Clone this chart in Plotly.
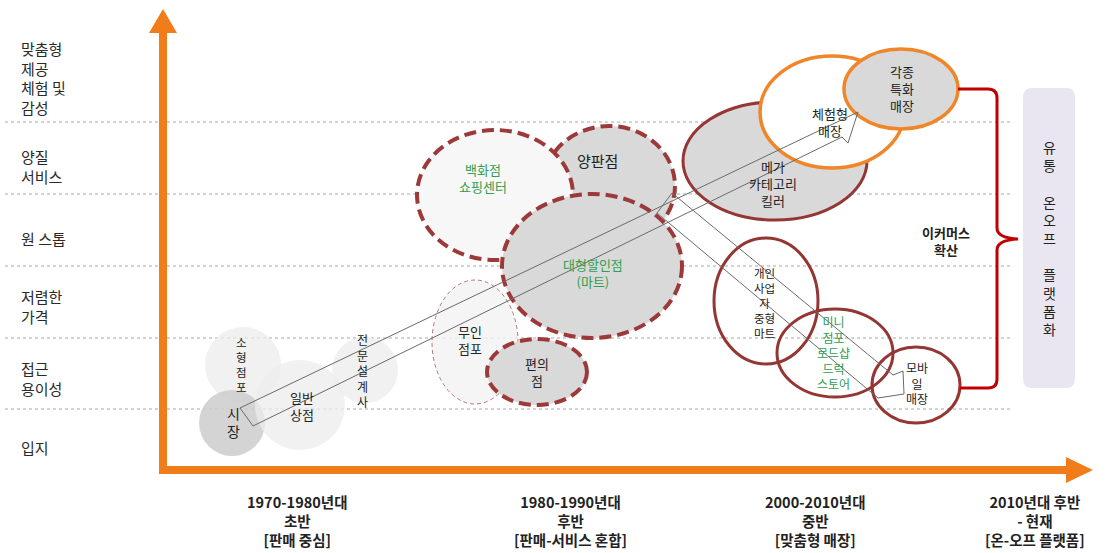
import plotly.graph_objects as go

W, H = 1114, 553
FONT = "Noto Sans CJK KR"

# ---- axis categories ----
level_labels = ["맞춤형<br>제공<br>체험 및<br>감성", "양질<br>서비스", "원 스톱", "저렴한<br>가격", "접근<br>용이성", "입지"]
level_y = [78, 166, 238, 306, 378, 447]
grid_y = [122, 194, 266, 338, 409]

period_labels = ["1970-1980년대<br>초반<br>[판매 중심]",
                 "1980-1990년대<br>후반<br>[판매-서비스 혼합]",
                 "2000-2010년대<br>중반<br>[맞춤형 매장]",
                 "2010년대 후반<br>- 현재<br>[온-오프 플랫폼]"]
period_x = [297, 570, 815, 1035]

# ---- bubbles (drawing order) ----
bubble_names = ["소형점포", "전문설계사", "시장", "일반상점", "무인점포", "편의점",
                "양판점", "백화점", "대형할인점", "메가", "체험형", "각종",
                "개인사업자", "미니점포", "모바일"]
bubble_cx = [243, 365, 232, 300, 475, 537, 609, 495, 592, 775, 832, 901, 766, 835, 916]
bubble_cy = [365, 370, 423, 405, 342, 372, 186, 195, 266, 161, 112, 89, 301, 353, 385]
bubble_rx = [38, 33, 33, 45, 43, 50, 66, 78, 90, 92, 72, 57, 52, 58, 44]
bubble_ry = [38, 33, 33, 45, 62, 33, 60, 65, 72, 59, 56, 40, 63, 44, 38]
bubble_style = ["light", "light", "grayt", "light", "thin", "dgray",
                "dgray", "dlight", "dgray", "brown", "orangew", "orangeg",
                "ring", "ring", "ring"]

styles = {
    "light":   dict(fill="rgba(236,236,236,0.75)", line=None, width=0, dash="solid"),
    "grayt":   dict(fill="rgba(205,205,205,0.85)", line=None, width=0, dash="solid"),
    "thin":    dict(fill="rgba(243,243,243,0.8)", line="#b07a7a", width=1, dash="4px,3px"),
    "dgray":   dict(fill="#d9d9d9", line="#9c3a3a", width=4, dash="12px,6px"),
    "dlight":  dict(fill="#f7f7f7", line="#9c3a3a", width=4, dash="12px,6px"),
    "brown":   dict(fill="#d9d9d9", line="#943634", width=3, dash="solid"),
    "orangew": dict(fill="#ffffff", line="#f0862a", width=3.5, dash="solid"),
    "orangeg": dict(fill="#d9d9d9", line="#f0862a", width=3.5, dash="solid"),
    "ring":    dict(fill="rgba(0,0,0,0)", line="#943634", width=3, dash="solid"),
}

# ---- bubble labels ----
label_text = ["시<br>장", "소<br>형<br>점<br>포", "일반<br>상점", "전<br>문<br>설<br>계<br>사",
              "무인<br>점포", "편의<br>점", "백화점<br>쇼핑센터", "양판점", "대형할인점<br>(마트)",
              "메가<br>카테고리<br>킬러", "체험형<br>매장", "각종<br>특화<br>매장",
              "개인<br>사업<br>자<br>중형<br>마트", "미니<br>점포<br>로드샵<br>드럭<br>스토어", "모바<br>일<br>매장"]
label_x = [233, 241, 302, 362, 470, 537, 483, 597, 593, 773, 830, 902, 764, 833, 917]
label_y = [422, 364, 406, 370, 340, 372, 178, 160, 273, 183, 122, 88, 303, 352, 383]
label_green = [False, False, False, False, False, False, True, False, True,
               False, False, False, False, True, False]
label_size = [14, 11.5, 13, 12, 13, 13, 13, 15, 13, 13, 13, 13, 11.5, 12, 12]

# ---- hollow trend arrows ----
arrow_up_x = [240, 858, 848, 842, 253, 240]
arrow_up_y = [408, 112, 143, 137, 426, 408]
arrow_dn_x = [672, 893, 903, 904, 878, 657, 672]
arrow_dn_y = [193, 375, 371, 394, 398, 213, 193]

side_label = "유<br>통<br><br>온<br>오<br>프<br><br>플<br>랫<br>폼<br>화"
ecommerce_label = "이커머스<br>확산"

fig = go.Figure()
fig.add_trace(go.Scatter(x=[0, W], y=[0, H], mode="markers",
                         marker=dict(opacity=0), hoverinfo="skip", showlegend=False))

shapes = []
for gy in grid_y:
    shapes.append(dict(type="line", x0=5, x1=1013, y0=gy, y1=gy,
                       line=dict(color="#a8a8a8", width=1, dash="dot"), layer="below"))

for i in range(len(bubble_names)):
    s = styles[bubble_style[i]]
    line = dict(width=0) if s["line"] is None else dict(color=s["line"], width=s["width"], dash=s["dash"])
    shapes.append(dict(type="circle", xref="x", yref="y",
                       x0=bubble_cx[i] - bubble_rx[i], x1=bubble_cx[i] + bubble_rx[i],
                       y0=bubble_cy[i] - bubble_ry[i], y1=bubble_cy[i] + bubble_ry[i],
                       fillcolor=s["fill"], line=line))

def poly(xs, ys):
    return "M " + " L ".join(f"{x},{y}" for x, y in zip(xs, ys)) + " Z"

shapes.append(dict(type="path", path=poly(arrow_up_x, arrow_up_y),
                   line=dict(color="#6a6a6a", width=1), fillcolor="rgba(0,0,0,0)"))
shapes.append(dict(type="path", path=poly(arrow_dn_x, arrow_dn_y),
                   line=dict(color="#6a6a6a", width=1), fillcolor="rgba(0,0,0,0)"))

px0, px1, py0, py1, r = 1023, 1075, 88, 388, 9
shapes.append(dict(type="path",
                   path=(f"M {px0+r},{py0} L {px1-r},{py0} Q {px1},{py0} {px1},{py0+r} "
                         f"L {px1},{py1-r} Q {px1},{py1} {px1-r},{py1} L {px0+r},{py1} "
                         f"Q {px0},{py1} {px0},{py1-r} L {px0},{py0+r} Q {px0},{py0} {px0+r},{py0} Z"),
                   fillcolor="#e9e6f2", line=dict(width=0)))

shapes.append(dict(type="path",
                   path=("M 958,89 L 988,89 Q 997,89 997,98 L 997,228 Q 997,238 1018,239 "
                         "Q 997,240 997,250 L 997,379 Q 997,388 988,388 L 960,388"),
                   line=dict(color="#c00000", width=3), fillcolor="rgba(0,0,0,0)"))

orange = "#f07d1a"
shapes.append(dict(type="line", x0=163, x1=163, y0=474, y1=30, line=dict(color=orange, width=8)))
shapes.append(dict(type="path", path="M 149,33 L 163,9 L 177,33 Z", fillcolor=orange, line=dict(width=0)))
shapes.append(dict(type="line", x0=159, x1=1068, y0=470, y1=470, line=dict(color=orange, width=8)))
shapes.append(dict(type="path", path="M 1066,457 L 1093,470 L 1066,483 Z", fillcolor=orange, line=dict(width=0)))

annotations = []

def add_text(text, x, y, size, color, xanchor="center", align="center", bold=False):
    annotations.append(dict(x=x, y=y, text=("<b>" + text + "</b>") if bold else text,
                            borderpad=0, showarrow=False, xanchor=xanchor, yanchor="middle", align=align,
                            font=dict(family=FONT, size=size, color=color)))

for t, y in zip(level_labels, level_y):
    add_text(t, 20, y, 15, "#2a2a2a", xanchor="left", align="left")
for t, x in zip(period_labels, period_x):
    add_text(t, x, 520, 14.5, "#222222", bold=True)
for t, x, y, g, sz in zip(label_text, label_x, label_y, label_green, label_size):
    add_text(t, x, y, sz, "#2e9e4f" if g else "#222222")
add_text(ecommerce_label, 946, 241, 13, "#222222", bold=True)
add_text(side_label, 1049, 238, 14, "#222222")

fig.update_layout(
    width=W, height=H, margin=dict(l=0, r=0, t=0, b=0),
    paper_bgcolor="white", plot_bgcolor="white",
    xaxis=dict(range=[0, W], visible=False, fixedrange=True),
    yaxis=dict(range=[H, 0], visible=False, fixedrange=True),
    shapes=shapes, annotations=annotations, showlegend=False,
)
fig.write_html("out.html")
